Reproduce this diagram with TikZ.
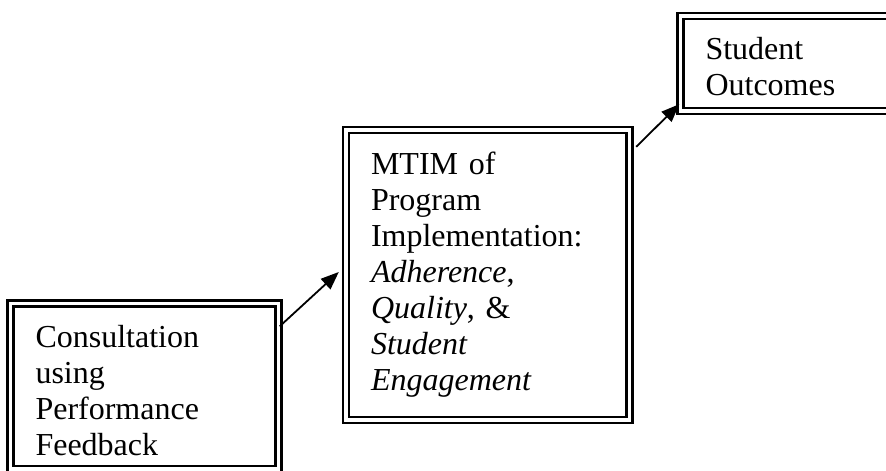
\documentclass[tikz,border=0pt]{standalone}
\usepackage{fontspec}
\setmainfont{Liberation Serif}
\usetikzlibrary{arrows.meta}
\tikzset{
        % framed boxes, text set from the top left corner
        stage/.style={rectangle, draw=black, double, double distance=1.8pt, line width=1.2pt,
                align=left, inner xsep=12.5pt, inner ysep=0pt, text height=22pt,
                font=\fontsize{16pt}{18pt}\selectfont},
        % connectors between the stages
        link/.style={-{Triangle[length=9pt,width=7pt]}, line width=0.9pt}
}
\begin{document}
\begin{tikzpicture}[x=0.5pt, y=-0.5pt]
    \useasboundingbox (0,0) rectangle (886,470);
    \clip (0,0) rectangle (886,470);
    % stages
    \node[stage, text width=109pt, text depth=60.75pt] (consult) at (144.5,386.25)
        {Consultation\\using\\Performance\\Feedback};
    \node[stage, text width=116.75pt, text depth=123pt] (mtim) at (487.75,275)
        {MTIM of\\Program\\Implementation:\\\textit{Adherence},\\\textit{Quality}, \&\\\textit{Student}\\\textit{Engagement}};
    \node[stage, text width=115pt, text depth=25.5pt] (outcomes) at (820.5,63.5)
        {Student\\Outcomes};
    % links
    \draw[link] ([yshift=-12pt]consult.north east) -- ([shift={(-3pt,1.5pt)}]mtim.west);
    \draw[link] ([shift={(2.75pt,-9pt)}]mtim.north east) -- ([yshift=4pt]outcomes.south west);
\end{tikzpicture}
\end{document}
